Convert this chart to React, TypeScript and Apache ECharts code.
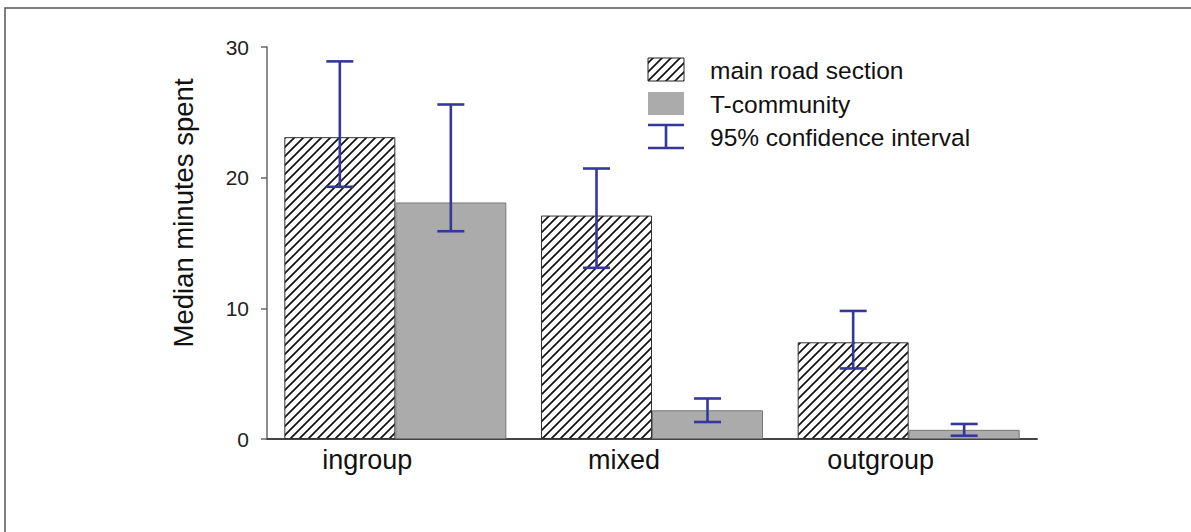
import React, { useEffect, useRef } from "react";
import * as echarts from "echarts";

const categories = ["ingroup", "mixed", "outgroup"];
const mainRoad = [23.1, 17.1, 7.4];
const mainRoadLow = [19.3, 13.1, 5.4];
const mainRoadHigh = [28.9, 20.7, 9.8];
const tCommunity = [18.1, 2.2, 0.7];
const tCommunityLow = [15.9, 1.3, 0.25];
const tCommunityHigh = [25.6, 3.1, 1.15];
const yTicks = [0, 10, 20, 30];
const legendNames = ["main road section", "T-community", "95% confidence interval"];
const yName = "Median minutes spent";

const ERR = "#35379a";
const BAR_W = 111;

function makeHatch(): HTMLCanvasElement {
  const s = 9;
  const c = document.createElement("canvas");
  c.width = s;
  c.height = s;
  const ctx = c.getContext("2d")!;
  ctx.fillStyle = "#ffffff";
  ctx.fillRect(0, 0, s, s);
  ctx.strokeStyle = "#111111";
  ctx.lineWidth = 1.7;
  ctx.beginPath();
  ctx.moveTo(0, s);
  ctx.lineTo(s, 0);
  ctx.moveTo(-2, 2);
  ctx.lineTo(2, -2);
  ctx.moveTo(s - 2, s + 2);
  ctx.lineTo(s + 2, s - 2);
  ctx.stroke();
  return c;
}

export default function App() {
  const ref = useRef<HTMLDivElement>(null);
  useEffect(() => {
    const chart = echarts.init(ref.current!, null, { renderer: "svg" });
    const hatch = { image: makeHatch(), repeat: "repeat" } as any;
    const font = "'Liberation Sans', Arial, sans-serif";

    const errSeries = (name: string, low: number[], high: number[], offset: number) => ({
      type: "custom",
      name,
      z: 5,
      data: categories.map((_, i) => [i, low[i], high[i]]),
      encode: { x: 0, y: [1, 2] },
      renderItem: (params: any, api: any) => {
        const x = api.coord([api.value(0), 0])[0] + offset;
        const yl = api.coord([api.value(0), api.value(1)])[1];
        const yh = api.coord([api.value(0), api.value(2)])[1];
        const cw = 13.5;
        const st = { stroke: ERR, lineWidth: 2.6 };
        return {
          type: "group",
          children: [
            { type: "line", shape: { x1: x, y1: yl, x2: x, y2: yh }, style: st },
            { type: "line", shape: { x1: x - cw, y1: yh, x2: x + cw, y2: yh }, style: st },
            { type: "line", shape: { x1: x - cw, y1: yl, x2: x + cw, y2: yl }, style: st },
          ],
        };
      },
    });

    const legX = 648;
    chart.setOption({
      animation: false,
      textStyle: { fontFamily: font },
      grid: { left: 267, right: 154, top: 47, bottom: 93 },
      xAxis: {
        type: "category",
        data: categories,
        axisLine: { lineStyle: { color: "#444", width: 2 } },
        axisTick: { show: false },
        axisLabel: {
          fontSize: 27,
          color: "#111",
          margin: 7,
          padding: [0, 56, 0, 0],
          fontFamily: font,
        },
      },
      yAxis: {
        type: "value",
        min: 0,
        max: 30,
        interval: 10,
        splitLine: { show: false },
        axisLine: { show: true, lineStyle: { color: "#666", width: 1.5 } },
        axisTick: { show: true, length: 6, lineStyle: { color: "#666", width: 1.5 } },
        axisLabel: {
          fontSize: 21,
          color: "#222",
          margin: 18,
          fontFamily: font,
          formatter: (v: number) => (yTicks.includes(v) ? String(v) : ""),
        },
      },
      series: [
        {
          type: "bar",
          name: legendNames[0],
          data: mainRoad,
          barWidth: BAR_W,
          barGap: "0%",
          itemStyle: { color: hatch, borderColor: "#333", borderWidth: 1 },
        },
        {
          type: "bar",
          name: legendNames[1],
          data: tCommunity,
          barWidth: BAR_W,
          barGap: "0%",
          itemStyle: { color: "#ababab", borderColor: "#777", borderWidth: 1 },
        },
        errSeries("err1", mainRoadLow, mainRoadHigh, -BAR_W / 2),
        errSeries("err2", tCommunityLow, tCommunityHigh, BAR_W / 2),
      ],
      graphic: [
        {
          type: "rect",
          silent: true,
          shape: { x: 5, y: 8, width: 1400, height: 800 },
          style: { fill: "none", stroke: "#555", lineWidth: 1.5 },
        },
        {
          type: "text",
          x: 183,
          y: 213,
          rotation: Math.PI / 2,
          style: {
            text: yName,
            fontSize: 27.5,
            fontFamily: font,
            fill: "#111",
            align: "center",
            verticalAlign: "middle",
          },
        },
        {
          type: "rect",
          shape: { x: legX, y: 58, width: 36, height: 23 },
          style: { fill: hatch, stroke: "#222", lineWidth: 1 },
        },
        {
          type: "rect",
          shape: { x: legX, y: 92, width: 36, height: 23 },
          style: { fill: "#ababab", stroke: "none" },
        },
        { type: "line", shape: { x1: legX + 18, y1: 125, x2: legX + 18, y2: 148 }, style: { stroke: ERR, lineWidth: 2.6 } },
        { type: "line", shape: { x1: legX, y1: 125, x2: legX + 36, y2: 125 }, style: { stroke: ERR, lineWidth: 2.6 } },
        { type: "line", shape: { x1: legX, y1: 148, x2: legX + 36, y2: 148 }, style: { stroke: ERR, lineWidth: 2.6 } },
        ...legendNames.map((t, i) => ({
          type: "text",
          x: 710,
          y: [70, 104, 137][i],
          style: {
            text: t,
            fontSize: 24.5,
            fontFamily: font,
            fill: "#111",
            align: "left",
            verticalAlign: "middle",
          },
        })),
      ],
    } as any);
    return () => chart.dispose();
  }, []);
  return (
    <div
      ref={ref}
      style={{ position: "fixed", left: 0, top: 0, width: 1191, height: 532, background: "#fff" }}
    />
  );
}
